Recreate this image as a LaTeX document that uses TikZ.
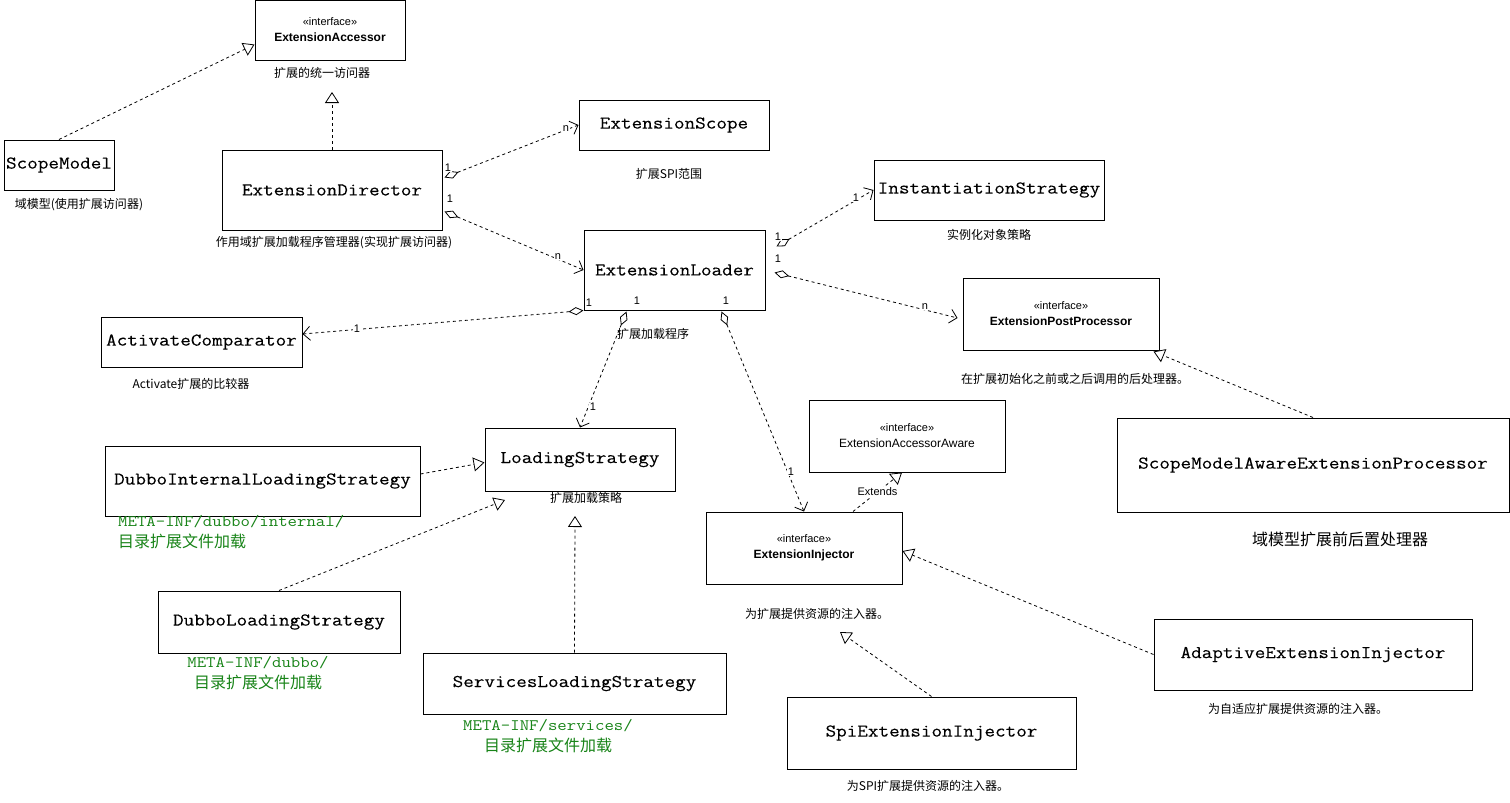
\documentclass[tikz,border=0pt]{standalone}
\usepackage{fontspec}
\setmainfont{Liberation Sans}
\newfontfamily\cjk{Noto Sans CJK SC}
\newfontfamily\monof[FakeStretch=1.143,FakeBold=0.15]{Latin Modern Mono}
\newfontfamily\monog[FakeStretch=1.143]{Latin Modern Mono}
\usetikzlibrary{arrows.meta,calc}
\definecolor{grn}{RGB}{24,132,24}
\tikzset{
  cls/.style={draw=black, line width=1pt, fill=white, inner sep=0pt, font=\monof\fontsize{18}{20}\selectfont},
  ifc/.style={draw=black, line width=1pt, fill=white, inner sep=0pt, align=center, font=\fontsize{11}{16}\selectfont},
  note/.style={font=\cjk\fontsize{12}{14}\selectfont, inner sep=0pt},
  bignote/.style={font=\cjk\fontsize{16}{18}\selectfont, inner sep=0pt},
  mult/.style={font=\fontsize{11}{12}\selectfont, inner sep=0.5pt, fill=white},
  dep/.style={draw, line width=0.8pt, dash pattern=on 3pt off 3pt},
  agg/.style={dep, {Diamond[open,length=15pt,width=8pt]}-{Straight Barb[length=7pt,width=14pt]}},
  real/.style={dep, -{Triangle[open,length=11pt,width=14pt,fill=white]}},
  gnote/.style={text=grn, inner sep=0pt, font=\fontsize{16}{21}\selectfont},
}
\begin{document}
\begin{tikzpicture}[x=1pt,y=-1pt]
\useasboundingbox (0,0) rectangle (1510,803);
\fill[white] (0,0) rectangle (1510,803);

% boxes
\node[ifc, minimum width=150pt, minimum height=60pt] (acc) at (330,30) {«interface»\\{\fontsize{12}{16}\selectfont\bfseries ExtensionAccessor}};
\node[cls, minimum width=110pt, minimum height=50pt] (sm) at (59,165) {ScopeModel};
\node[cls, minimum width=220pt, minimum height=80pt] (dir) at (332,190) {ExtensionDirector};
\node[cls, minimum width=190pt, minimum height=50pt] (scope) at (674,125) {ExtensionScope};
\node[cls, minimum width=181pt, minimum height=80pt] (loader) at (674.5,270) {ExtensionLoader};
\node[cls, minimum width=230pt, minimum height=60pt] (inst) at (989,190) {InstantiationStrategy};
\node[ifc, minimum width=196pt, minimum height=72pt] (post) at (1061,314) {«interface»\\{\fontsize{12}{16}\selectfont\bfseries ExtensionPostProcessor}};
\node[cls, minimum width=201pt, minimum height=50pt] (act) at (201.5,342) {ActivateComparator};
\node[cls, minimum width=190pt, minimum height=63pt] (ls) at (580,459.5) {LoadingStrategy};
\node[cls, minimum width=315pt, minimum height=70pt] (dils) at (262.5,481) {DubboInternalLoadingStrategy};
\node[ifc, minimum width=196pt, minimum height=72pt] (aware) at (907,436) {«interface»\\{\fontsize{12}{16}\selectfont ExtensionAccessorAware}};
\node[ifc, minimum width=196pt, minimum height=72pt] (inj) at (804,548) {«interface»\\{\fontsize{12}{16}\selectfont\bfseries ExtensionInjector}};
\node[cls, minimum width=392pt, minimum height=94pt] (smaep) at (1313,465) {ScopeModelAwareExtensionProcessor};
\node[cls, minimum width=242pt, minimum height=62pt] (dls) at (279,622) {DubboLoadingStrategy};
\node[cls, minimum width=303pt, minimum height=61pt] (sls) at (574.5,683.5) {ServicesLoadingStrategy};
\node[cls, minimum width=318pt, minimum height=71pt] (adapt) at (1313,654.5) {AdaptiveExtensionInjector};
\node[cls, minimum width=289pt, minimum height=72pt] (spi) at (931.5,733) {SpiExtensionInjector};

% notes
\node[note] (n1) at (322,73) {扩展的统一访问器};
\node[note] (n2) at (79,205) {域模型(使用扩展访问器)};
\node[note] (n3) at (334,243) {作用域扩展加载程序管理器(实现扩展访问器)};
\node[note] (n4) at (669,174) {扩展SPI范围};
\node[note] (n5) at (653,334) {扩展加载程序};
\node[note] (n6) at (989,235) {实例化对象策略};
\node[note] (n7) at (1075,379) {在扩展初始化之前或之后调用的后处理器。};
\node[note] (n8) at (191,384) {Activate扩展的比较器};
\node[note] (n9) at (586,498) {扩展加载策略};
\node[note] (n10) at (817,614) {为扩展提供资源的注入器。};
\node[bignote] (n11) at (1340,539) {域模型扩展前后置处理器};
\node[note] (n12) at (1298,709) {为自适应扩展提供资源的注入器。};
\node[note] (n13) at (928,786) {为SPI扩展提供资源的注入器。};

% green notes
\node[gnote, anchor=west, align=left] (g1) at (118,532) {{\monog META-INF/dubbo/internal/}\\{\cjk 目录扩展文件加载}};
\node[gnote, align=center] (g2) at (258,673.5) {{\monog META-INF/dubbo/}\\{\cjk 目录扩展文件加载}};
\node[gnote, align=center] (g3) at (548,736.5) {{\monog META-INF/services/}\\{\cjk 目录扩展文件加载}};

% connectors
\coordinate (accT) at (332,92);
\coordinate (lsT2) at (505,500);
\coordinate (lsT3) at (575,516);
\coordinate (injT) at (840,632);

\draw[real] (sm.north) -- ($(acc.south west)+(0,-16)$);
\draw[real] (dir.north) -- (accT);
\draw[agg] ($(dir.north east)+(2,28)$) -- (scope.west);
\draw[agg] ($(dir.north east)+(2,62)$) -- (loader.west);
\draw[agg] ($(loader.north east)+(11,17)$) -- (inst.west);
\draw[agg] ($(loader.north east)+(9,43)$) -- ($(post.west)+(-5,4)$);
\draw[agg] (loader.south west) -- ($(act.east)+(0,-8)$);
\draw[agg] ($(loader.south west)+(43,1)$) -- (ls.north);
\draw[agg] ($(loader.south west)+(138,1)$) -- (inj.north);
\draw[real] ($(dils.east)+(0,-7)$) -- ($(ls.west)+(0,3)$);
\draw[real] (dls.north) -- (lsT2);
\draw[real] (sls.north) -- (lsT3);
\draw[real] ($(inj.north)+(49,0)$) -- node[fill=white, inner sep=1pt, font=\fontsize{11}{12}\selectfont] {Extends} ($(aware.south)+(-5,0)$);
\draw[real] (adapt.west) -- ($(inj.east)+(0,3)$);
\draw[real] (spi.north) -- (injT);
\draw[real] (smaep.north) -- ($(post.south east)+(-6,1)$);

% multiplicities
\node[mult] at (448,168) {1};
\node[mult] at (566,129) {n};
\node[mult] at (450,199) {1};
\node[mult] at (558,257) {n};
\node[mult] at (778,237) {1};
\node[mult] at (856,198) {1};
\node[mult] at (778,259) {1};
\node[mult] at (925,307) {n};
\node[mult] at (589,303) {1};
\node[mult] at (357,329) {1};
\node[mult] at (637,301) {1};
\node[mult] at (593,407) {1};
\node[mult] at (726,301) {1};
\node[mult] at (791,472) {1};
\end{tikzpicture}
\end{document}
